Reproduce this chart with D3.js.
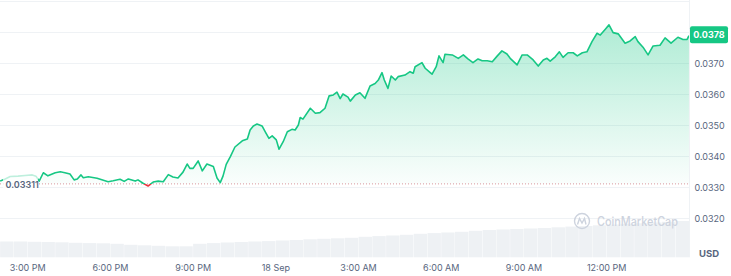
<!DOCTYPE html>
<html lang="en">
<head>
<meta charset="utf-8">
<title>Price chart</title>
<script src="https://cdn.jsdelivr.net/npm/d3@7/dist/d3.min.js"></script>
<style>
  body { margin: 0; background: #fff; }
  text { font-family: Inter, "Noto Sans", sans-serif; }
</style>
</head>
<body>
<div id="chart"></div>
<script>
// price points
var times = ["17 14:00","17 14:11","17 14:22","17 14:39","17 14:54","17 15:10","17 15:18","17 15:25","17 15:34","17 15:44",
  "17 16:00","17 16:11","17 16:21","17 16:32","17 16:41","17 16:48","17 16:56","17 17:01","17 17:12","17 17:31",
  "17 17:55","17 18:06","17 18:21","17 18:30","17 18:39","17 18:54","17 19:00","17 19:11","17 19:22","17 19:33",
  "17 19:44","17 19:55","17 20:06","17 20:16","17 20:27","17 20:38","17 20:47","17 20:53","17 21:00","17 21:11",
  "17 21:20","17 21:30","17 21:44","17 21:52","17 21:59","17 22:05","17 22:12","17 22:21","17 22:31","17 22:47",
  "17 22:58","17 23:04","17 23:11","17 23:19","17 23:30","17 23:37","17 23:45","17 23:52","18 00:01","18 00:07",
  "18 00:16","18 00:25","18 00:35","18 00:42","18 00:49","18 00:53","18 00:59","18 01:15","18 01:26","18 01:36",
  "18 01:47","18 01:56","18 02:05","18 02:13","18 02:20","18 02:26","18 02:37","18 02:42","18 02:53","18 03:03",
  "18 03:14","18 03:25","18 03:36","18 03:43","18 03:51","18 03:56","18 04:04","18 04:11","18 04:20","18 04:26",
  "18 04:41","18 04:52","18 04:59","18 05:03","18 05:18","18 05:25","18 05:36","18 05:40","18 05:49","18 05:55",
  "18 06:04","18 06:08","18 06:24","18 06:37","18 06:48","18 06:58","18 07:09","18 07:20","18 07:29","18 07:40",
  "18 07:51","18 08:02","18 08:12","18 08:23","18 08:30","18 08:45","18 08:56","18 09:07","18 09:20","18 09:31",
  "18 09:42","18 09:50","18 09:57","18 10:08","18 10:17","18 10:25","18 10:36","18 10:47","18 10:56","18 11:07",
  "18 11:17","18 11:28","18 11:39","18 11:46","18 11:57","18 12:05","18 12:14","18 12:25","18 12:40","18 12:51",
  "18 13:02","18 13:08","18 13:19","18 13:30","18 13:41","18 13:56","18 14:07","18 14:20","18 14:35","18 14:46",
  "18 14:55","18 14:59"];

var prices = [0.03320,0.03327,0.03335,0.03336,0.03338,0.03340,0.03336,0.03320,0.03347,0.03337,
  0.03347,0.03350,0.03347,0.03343,0.03324,0.03327,0.03340,0.03331,0.03334,0.03329,
  0.03318,0.03321,0.03326,0.03319,0.03327,0.03320,0.03324,0.03313,0.03304,0.03317,
  0.03320,0.03318,0.03341,0.03333,0.03330,0.03349,0.03375,0.03361,0.03361,0.03385,
  0.03353,0.03375,0.03367,0.03330,0.03315,0.03336,0.03374,0.03399,0.03430,0.03450,
  0.03456,0.03485,0.03498,0.03504,0.03498,0.03479,0.03458,0.03466,0.03453,0.03423,
  0.03447,0.03479,0.03487,0.03485,0.03501,0.03525,0.03520,0.03555,0.03539,0.03541,
  0.03555,0.03595,0.03598,0.03607,0.03586,0.03601,0.03591,0.03578,0.03598,0.03605,
  0.03587,0.03627,0.03635,0.03646,0.03670,0.03646,0.03619,0.03659,0.03646,0.03657,
  0.03662,0.03673,0.03668,0.03689,0.03702,0.03684,0.03670,0.03665,0.03689,0.03724,
  0.03702,0.03729,0.03727,0.03716,0.03727,0.03714,0.03702,0.03714,0.03708,0.03708,
  0.03705,0.03724,0.03740,0.03730,0.03716,0.03695,0.03727,0.03727,0.03711,0.03691,
  0.03711,0.03716,0.03707,0.03721,0.03737,0.03719,0.03734,0.03734,0.03724,0.03734,
  0.03737,0.03770,0.03797,0.03791,0.03810,0.03824,0.03799,0.03795,0.03765,0.03772,
  0.03786,0.03770,0.03752,0.03727,0.03756,0.03758,0.03782,0.03765,0.03784,0.03777,
  0.03777,0.03789];

// volume, one value per half hour starting 17 14:00 (relative units)
var volStart = "17 14:00";
var volumes = [15.8,15.8,15.5,15.3,15.0,14.5,14.2,14.0,13.5,12.5,
  12.0,11.5,11.0,11.0,13.5,14.2,14.8,15.3,15.8,16.2,
  16.8,17.3,18.0,18.5,19.0,19.5,20.5,21.2,21.8,22.5,
  23.5,24.2,24.8,25.5,26.5,27.3,27.8,28.3,28.8,29.3,
  30.0,30.7,31.3,32.0,32.8,33.5,34.0,34.8,35.5,36.3];

var openPrice = 0.03311;
var gridValues = [0.032,0.033,0.034,0.035,0.036,0.037,0.038,0.039];
var yLabelValues = [0.032,0.033,0.034,0.035,0.036,0.037];
var xTickTimes = ["17 15:00","17 18:00","17 21:00","18 00:00","18 03:00","18 06:00","18 09:00","18 12:00"];
var xTickLabels = ["3:00 PM","6:00 PM","9:00 PM","18 Sep","3:00 AM","6:00 AM","9:00 AM","12:00 PM"];

var width = 731, height = 276;
var plotRight = 689, volBottom = 257.3;
var green = "#16c784", red = "#ea3943", grey = "#58667e";

var parse = d3.timeParse("%d %H:%M");
var data = times.map(function(t, i) { return {t: parse(t), v: prices[i]}; });

var x = d3.scaleTime()
  .domain([parse("17 15:00"), parse("18 12:00")])
  .range([27.7, 606.7]);
var y = d3.scaleLinear()
  .domain([0.033, 0.038])
  .range([187.3, 32.3]);
var yv = d3.scaleLinear()
  .domain([0, 40])
  .range([volBottom, volBottom - 40]);

var yBase = y(openPrice);

var svg = d3.select("#chart").append("svg")
  .attr("width", width)
  .attr("height", height)
  .style("display", "block");

var defs = svg.append("defs");
var grad = defs.append("linearGradient")
  .attr("id", "gfill")
  .attr("gradientUnits", "userSpaceOnUse")
  .attr("x1", 0).attr("x2", 0)
  .attr("y1", y(0.0382)).attr("y2", yBase);
grad.append("stop").attr("offset", 0).attr("stop-color", green).attr("stop-opacity", 0.34);
grad.append("stop").attr("offset", 1).attr("stop-color", green).attr("stop-opacity", 0.02);

defs.append("clipPath").attr("id", "above")
  .append("rect").attr("x", 0).attr("y", 0).attr("width", plotRight).attr("height", yBase);
defs.append("clipPath").attr("id", "below")
  .append("rect").attr("x", 0).attr("y", yBase).attr("width", plotRight).attr("height", height - yBase);

// gridlines
svg.append("g").selectAll("line")
  .data(gridValues)
  .enter().append("line")
  .attr("x1", 0).attr("x2", plotRight)
  .attr("y1", function(d) { return Math.round(y(d)) + 0.5; })
  .attr("y2", function(d) { return Math.round(y(d)) + 0.5; })
  .attr("stroke", "#eff2f5");

// volume bars
var v0 = parse(volStart);
svg.append("g").selectAll("rect")
  .data(volumes)
  .enter().append("rect")
  .attr("x", function(d, i) { return x(d3.timeMinute.offset(v0, 30 * i)); })
  .attr("width", function(d, i) { return x(d3.timeMinute.offset(v0, 30 * (i + 1))) - x(d3.timeMinute.offset(v0, 30 * i)) - 0.4; })
  .attr("y", function(d) { return yv(d); })
  .attr("height", function(d) { return volBottom - yv(d); })
  .attr("fill", "#eef1f4");

// watermark
var wm = svg.append("g").attr("fill", "none").attr("stroke", "#cdd3de");
wm.append("circle").attr("cx", 582).attr("cy", 221).attr("r", 7.5).attr("stroke-width", 1.4);
wm.append("path").attr("stroke-width", 1.4)
  .attr("d", "M577.5,224.5 L579.5,218.5 L582,223 L584.5,218.5 L586,224.5");
svg.append("text")
  .attr("x", 597).attr("y", 225.5)
  .attr("font-size", 12.5).attr("font-weight", 500)
  .attr("textLength", 81).attr("lengthAdjust", "spacingAndGlyphs")
  .attr("fill", "#cdd3de")
  .text("CoinMarketCap");

// area + line
var area = d3.area()
  .x(function(d) { return x(d.t); })
  .y0(yBase)
  .y1(function(d) { return y(d.v); });
var line = d3.line()
  .x(function(d) { return x(d.t); })
  .y(function(d) { return y(d.v); });

svg.append("path").datum(data)
  .attr("clip-path", "url(#above)")
  .attr("d", area)
  .attr("fill", "url(#gfill)");
svg.append("path").datum(data)
  .attr("clip-path", "url(#below)")
  .attr("d", area)
  .attr("fill", red).attr("fill-opacity", 0.08);

// open price dotted line
svg.append("line")
  .attr("x1", 0).attr("x2", plotRight)
  .attr("y1", yBase).attr("y2", yBase)
  .attr("stroke", "#d9979e")
  .attr("stroke-dasharray", "1,2");

svg.append("path").datum(data)
  .attr("clip-path", "url(#above)")
  .attr("d", line)
  .attr("fill", "none").attr("stroke", green).attr("stroke-width", 1.6)
  .attr("stroke-linejoin", "round");
svg.append("path").datum(data)
  .attr("clip-path", "url(#below)")
  .attr("d", line)
  .attr("fill", "none").attr("stroke", red).attr("stroke-width", 1.6)
  .attr("stroke-linejoin", "round");

// open price label
svg.append("rect")
  .attr("x", 3).attr("y", 170).attr("width", 35).attr("height", 22)
  .attr("fill", "#fff").attr("fill-opacity", 0.72);
svg.append("text")
  .attr("x", 5.5).attr("y", yBase + 4.3)
  .attr("font-size", 9).attr("font-weight", 600)
  .attr("fill", grey)
  .text(openPrice.toFixed(5));

// right axis
svg.append("line")
  .attr("x1", plotRight + 0.5).attr("x2", plotRight + 0.5)
  .attr("y1", 0).attr("y2", volBottom)
  .attr("stroke", "#eff2f5");
svg.append("g").selectAll("text")
  .data(yLabelValues)
  .enter().append("text")
  .attr("x", 694.5)
  .attr("y", function(d) { return y(d) + 3.3; })
  .attr("font-size", 9)
  .attr("fill", grey)
  .text(d3.format(".4f"));
svg.append("text")
  .attr("x", 699).attr("y", 257)
  .attr("font-size", 9.5).attr("font-weight", 700)
  .attr("fill", grey)
  .text("USD");

// current price tag
var last = data[data.length - 1];
svg.append("rect")
  .attr("x", 690).attr("y", y(last.v) - 9.5)
  .attr("width", 38).attr("height", 17).attr("rx", 2)
  .attr("fill", green);
svg.append("text")
  .attr("x", 709).attr("y", y(last.v) + 2.3)
  .attr("text-anchor", "middle")
  .attr("font-size", 9).attr("font-weight", 700)
  .attr("fill", "#fff")
  .text((Math.floor(last.v * 1e4) / 1e4).toFixed(4));

// bottom axis labels
svg.append("g").selectAll("text")
  .data(xTickTimes)
  .enter().append("text")
  .attr("x", function(d) { return x(parse(d)); })
  .attr("y", 271.3)
  .attr("text-anchor", "middle")
  .attr("font-size", 9)
  .attr("fill", grey)
  .text(function(d, i) { return xTickLabels[i]; });
</script>
</body>
</html>
